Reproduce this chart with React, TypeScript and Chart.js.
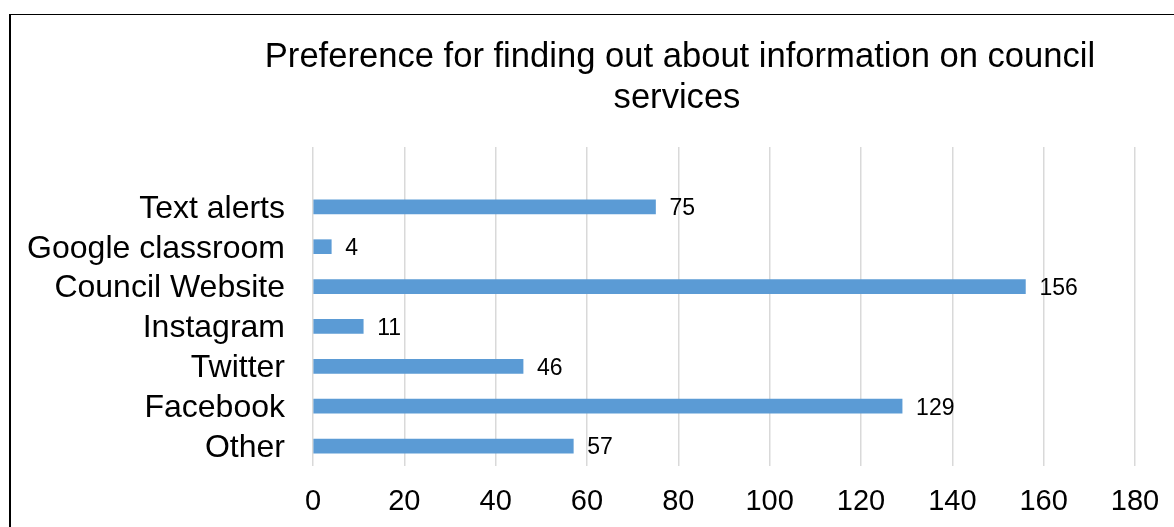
import React, { useEffect, useRef } from "react";
import { Chart, registerables } from "chart.js";

Chart.register(...registerables);

// Top-to-bottom order as shown; the first (blank) row is an empty category slot in the source sheet
const categories = ["", "Text alerts", "Google classroom", "Council Website", "Instagram", "Twitter", "Facebook", "Other"];
const counts: (number | null)[] = [null, 75, 4, 156, 11, 46, 129, 57];
const titleLines = ["Preference for finding out about information on council", "services"];
const xMin = 0;
const xMax = 180;
const xStep = 20;

const FONT = "'Liberation Sans', Arial, Helvetica, sans-serif";

const titlePlugin = {
  id: "customTitle",
  afterDraw(chart: any) {
    const ctx = chart.ctx;
    ctx.save();
    ctx.fillStyle = "#000000";
    ctx.font = `34.6px ${FONT}`;
    ctx.textAlign = "center";
    ctx.textBaseline = "alphabetic";
    ctx.fillText(titleLines[0], 680, 67);
    ctx.fillText(titleLines[1], 677, 107.5);
    ctx.restore();
  },
};

const valueLabelPlugin = {
  id: "valueLabels",
  afterDatasetsDraw(chart: any) {
    const ctx = chart.ctx;
    ctx.save();
    ctx.fillStyle = "#000000";
    ctx.font = `23px ${FONT}`;
    ctx.textAlign = "left";
    ctx.textBaseline = "middle";
    chart.data.datasets.forEach((ds: any, di: number) => {
      const meta = chart.getDatasetMeta(di);
      meta.data.forEach((el: any, i: number) => {
        const v = ds.data[i];
        if (v === null || v === undefined) return;
        ctx.fillText(String(v), el.x + 14, el.y + 2);
      });
    });
    ctx.restore();
  },
};

export default function App() {
  const canvasRef = useRef<HTMLCanvasElement | null>(null);

  useEffect(() => {
    document.body.style.margin = "0";
    const canvas = canvasRef.current;
    if (!canvas) return;
    const chart = new Chart(canvas, {
      type: "bar",
      data: {
        labels: categories,
        datasets: [
          {
            data: counts,
            backgroundColor: "#5B9BD5",
            borderWidth: 0,
            barThickness: 14,
          },
        ],
      },
      options: {
        indexAxis: "y",
        animation: false,
        responsive: false,
        maintainAspectRatio: false,
        layout: { padding: { top: 147, right: 39, bottom: 0, left: 0 } },
        plugins: {
          legend: { display: false },
          title: { display: false },
          tooltip: { enabled: false },
        },
        scales: {
          x: {
            type: "linear",
            min: xMin,
            max: xMax,
            ticks: {
              stepSize: xStep,
              color: "#000000",
              font: { family: FONT, size: 29 },
              padding: 19,
            },
            grid: { color: "#d9d9d9", lineWidth: 1.5, drawTicks: false },
            border: { display: false },
            afterFit: (scale: any) => {
              scale.height = 61;
              scale.paddingLeft = 0;
              scale.paddingRight = 0;
            },
          },
          y: {
            type: "category",
            ticks: {
              color: "#000000",
              font: { family: FONT, size: 32 },
              padding: 28,
              labelOffset: 2,
              autoSkip: false,
            },
            grid: { display: false, drawTicks: false },
            border: { display: false },
            afterFit: (scale: any) => {
              scale.width = 313;
              scale.paddingTop = 0;
              scale.paddingBottom = 0;
            },
          },
        },
      },
      plugins: [titlePlugin, valueLabelPlugin],
    } as any);
    return () => chart.destroy();
  }, []);

  return (
    <div style={{ position: "relative", width: 1174, height: 527, overflow: "hidden", background: "#ffffff" }}>
      <canvas ref={canvasRef} width={1174} height={527} style={{ position: "absolute", left: 0, top: 0, width: 1174, height: 527 }} />
      <div style={{ position: "absolute", left: 9, top: 14, width: 1200, height: 600, borderLeft: "2px solid #000", borderTop: "1px solid #000", pointerEvents: "none" }} />
    </div>
  );
}
